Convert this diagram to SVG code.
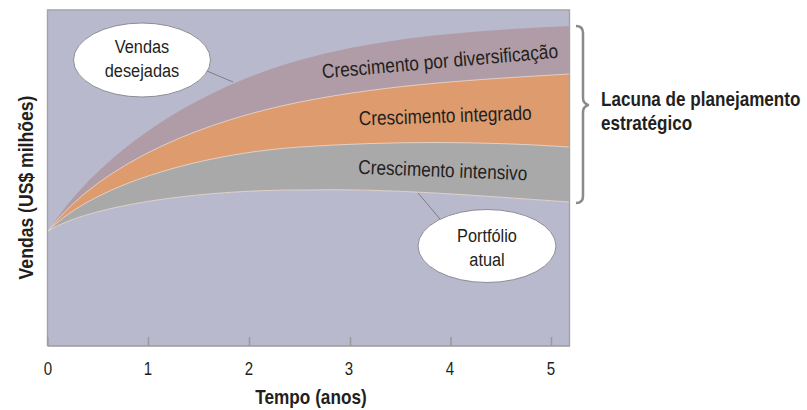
<svg xmlns="http://www.w3.org/2000/svg" width="807" height="410" viewBox="0 0 807 410">
<style>
.t{font-family:"Liberation Sans",Arial,sans-serif;fill:#231f20}
.b{font-weight:bold}
.m{text-anchor:middle}
.lead{stroke:#7d7d86;stroke-width:1;fill:none}
.callout{fill:#ffffff;stroke:#8c8c94;stroke-width:1}
.axis{stroke:#9b9b9b;stroke-width:1.6;fill:none}
.div{fill:none;stroke:#ece4e0;stroke-width:0.7}
</style>
<rect width="807" height="410" fill="#ffffff"/>
<g id="plot">
<rect x="47.5" y="10" width="522" height="336" fill="#b8b9cc"/>
<path d="M48,231 C108,141 210,85 300,60 C390,35 480,30.5 569.5,26 L569.5,202 C480,196 390,188 300,190 C200,190 90,205 48,231 Z" fill="#af9ca6"/>
<path d="M48,231 C103,159.5 210,120 300,102 C390,84 480,79.4 569.5,74 L569.5,202 C480,196 390,188 300,190 C200,190 90,205 48,231 Z" fill="#de9b6d"/>
<path d="M48,231 C98,181 210,153 300,147 C390,141 480,141 569.5,147 L569.5,202 C480,196 390,188 300,190 C200,190 90,205 48,231 Z" fill="#aaa9aa"/>
<path class="div" d="M48,231 C103,159.5 210,120 300,102 C390,84 480,79.4 569.5,74"/>
<path class="div" d="M48,231 C98,181 210,153 300,147 C390,141 480,141 569.5,147"/>
<path class="div" d="M48,231 C90,205 200,190 300,190 C390,188 480,196 569.5,202"/>
<path d="M47.5,346 L47.5,10 L569.5,10 L569.5,346" fill="none" stroke="#a4a4a8" stroke-width="1.4"/>
</g>
<g id="x-axis">
<path class="axis" d="M47.5,346 H570 M47.8,337 V346 M148.5,337 V346 M249.5,337 V346 M350.5,337 V346 M451,337 V346 M551.5,337 V346"/>
<text class="t m" font-size="17.5" transform="translate(48 375) scale(0.86 1)">0</text>
<text class="t m" font-size="17.5" transform="translate(148 375) scale(0.86 1)">1</text>
<text class="t m" font-size="17.5" transform="translate(249 375) scale(0.86 1)">2</text>
<text class="t m" font-size="17.5" transform="translate(349 375) scale(0.86 1)">3</text>
<text class="t m" font-size="17.5" transform="translate(450 375) scale(0.86 1)">4</text>
<text class="t m" font-size="17.5" transform="translate(551 375) scale(0.86 1)">5</text>
<text class="t b m" font-size="20" transform="translate(311 404) scale(0.86 1)">Tempo (anos)</text>
</g>
<g id="y-axis">
<text class="t b m" font-size="20" transform="translate(33 187.5) rotate(-90) scale(0.88 1)">Vendas (US$ milhões)</text>
</g>
<g id="band-diversificacao">
<text class="t m" font-size="20" transform="translate(440.5 68) rotate(-5) scale(0.867 1)">Crescimento por diversificação</text>
</g>
<g id="band-integrado">
<text class="t m" font-size="20" transform="translate(445.5 122.5) rotate(-1.9) scale(0.86 1)">Crescimento integrado</text>
</g>
<g id="band-intensivo">
<text class="t m" font-size="20" transform="translate(442.5 177) rotate(2.2) scale(0.86 1)">Crescimento intensivo</text>
</g>
<g id="connectors">
<line class="lead" x1="207" y1="71" x2="233" y2="82"/>
<line class="lead" x1="418" y1="193" x2="440" y2="219"/>
</g>
<g id="vendas-desejadas">
<ellipse class="callout" cx="142" cy="60" rx="68.5" ry="37"/>
<text class="t m" font-size="19" transform="translate(142 53) scale(0.86 1)">Vendas</text>
<text class="t m" font-size="19" transform="translate(142 77) scale(0.86 1)">desejadas</text>
</g>
<g id="portfolio-atual">
<ellipse class="callout" cx="487" cy="246" rx="69" ry="36.5"/>
<text class="t m" font-size="19" transform="translate(487 242) scale(0.86 1)">Portfólio</text>
<text class="t m" font-size="19" transform="translate(487 266) scale(0.86 1)">atual</text>
</g>
<g id="lacuna">
<path d="M576,26 Q583,26 583,33 L583,98 Q583,103 588,105 Q583,107 583,112 L583,196 Q583,203 576,203" fill="none" stroke="#8a8a8a" stroke-width="2.5" stroke-linejoin="round"/>
<text class="t b" font-size="20" transform="translate(601 106) scale(0.855 1)">Lacuna de planejamento</text>
<text class="t b" font-size="20" transform="translate(601 130) scale(0.855 1)">estratégico</text>
</g>
</svg>
